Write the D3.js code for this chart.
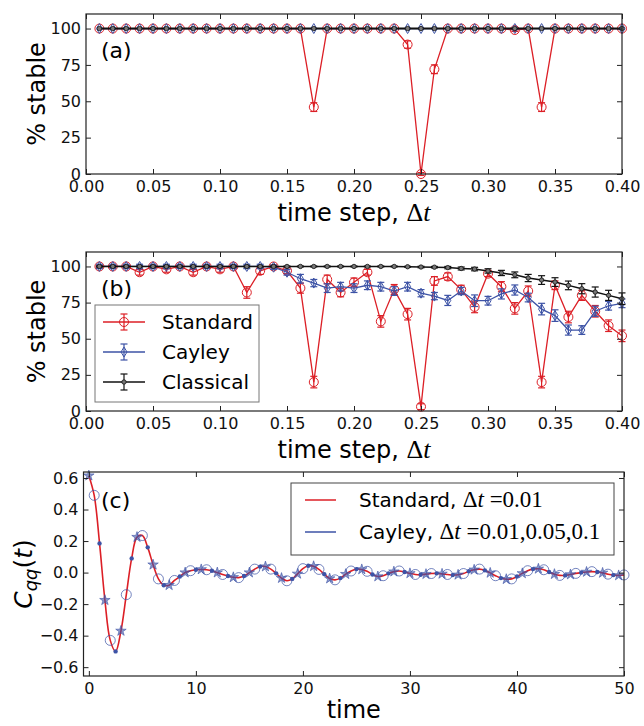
<!DOCTYPE html>
<html>
<head>
<meta charset="utf-8">
<script src="https://cdn.jsdelivr.net/npm/d3@7/dist/d3.min.js"></script>
<style>
  body { margin: 0; background: #fff; }
  text { font-family: "DejaVu Sans", sans-serif; white-space: pre; }
</style>
</head>
<body>
<div id="chart"></div>
<script>
// time steps used in panels (a) and (b)
var timeSteps = [0.01, 0.02, 0.03, 0.04, 0.05, 0.06, 0.07, 0.08, 0.09, 0.10,
                 0.11, 0.12, 0.13, 0.14, 0.15, 0.16, 0.17, 0.18, 0.19, 0.20,
                 0.21, 0.22, 0.23, 0.24, 0.25, 0.26, 0.27, 0.28, 0.29, 0.30,
                 0.31, 0.32, 0.33, 0.34, 0.35, 0.36, 0.37, 0.38, 0.39, 0.40];

// panel (a): % stable
var standardA = [100, 100, 100, 100, 100, 100, 100, 100, 100, 100,
                 100, 100, 100, 100, 100, 100, 46, 100, 100, 100,
                 100, 100, 100, 89, 0, 72, 100, 100, 100, 100,
                 100, 99, 100, 46, 100, 100, 100, 100, 100, 100];
var standardAErr = [0, 0, 0, 0, 0, 0, 0, 0, 0, 0,
                    0, 0, 0, 0, 0, 0, 3, 0, 0, 0,
                    0, 0, 0, 2.5, 1, 3, 0, 0, 0, 0,
                    0, 1, 0, 3, 0, 0, 0, 0, 0, 0];
var cayleyA = [100, 100, 100, 100, 100, 100, 100, 100, 100, 100,
               100, 100, 100, 100, 100, 100, 100, 100, 100, 100,
               100, 100, 100, 100, 100, 100, 100, 100, 100, 100,
               100, 100, 100, 100, 100, 100, 100, 100, 100, 100];
var classicalA = [100, 100, 100, 100, 100, 100, 100, 100, 100, 100,
                  100, 100, 100, 100, 100, 100, 100, 100, 100, 100,
                  100, 100, 100, 100, 100, 100, 100, 100, 100, 100,
                  100, 100, 100, 100, 100, 100, 100, 100, 100, 100];

// panel (b): % stable
var standardB = [100, 100, 100, 96, 100, 98, 100, 96, 100, 98,
                 100, 82, 97, 100, 97, 85, 20, 91, 82, 89,
                 96, 62, 84, 67, 3, 90, 93, 84, 72, 95,
                 86, 71, 83, 20, 87, 65, 80, 69, 59, 52];
var standardBErr = [0.5, 0.5, 0.5, 2, 0.5, 2, 0.5, 2, 0.5, 2,
                    0.5, 4, 2.5, 1, 2, 3.5, 4, 3, 3, 3,
                    2, 4, 3.5, 4, 2, 3, 2.5, 3, 4, 2,
                    3.5, 4, 3.5, 4, 3, 4, 3.5, 4, 4, 4];
var cayleyB = [100, 100, 100, 100, 100, 100, 100, 100, 100, 100,
               100, 100, 100, 99.5, 96, 91.5, 88.5, 85, 86, 85,
               87, 86, 83, 86, 81.5, 79.5, 76.5, 83, 76.3, 76.3,
               81, 83.7, 78.5, 70.5, 66, 56, 56, 69, 72.8, 74.5];
var cayleyBErr = [1.5, 1.5, 1.5, 1.5, 1.5, 1.5, 1.5, 1.5, 1.5, 1.5,
                  1.5, 1.5, 1.5, 1.5, 2, 3, 2.5, 3, 3, 3,
                  3, 3, 3, 3, 2.5, 2.5, 3.5, 2.5, 4, 3,
                  3.5, 3.5, 3, 4, 4, 3.5, 3, 3.5, 3, 3];
var classicalB = [100, 100, 100, 100, 100, 100, 100, 100, 100, 100,
                  100, 100, 100, 100, 100, 100, 100, 100, 100, 100,
                  100, 100, 100, 99.8, 99.6, 99.5, 99.2, 98.6, 98.2, 96.9,
                  95.5, 94.2, 92, 90.6, 89.2, 86.9, 84.6, 82.3, 80, 77.7];
var classicalBErr = [0.3, 0.3, 0.3, 0.3, 0.3, 0.3, 0.3, 0.3, 0.3, 0.3,
                     0.3, 0.3, 0.3, 0.3, 0.3, 0.3, 0.3, 0.3, 0.3, 0.3,
                     0.3, 0.3, 0.3, 0.3, 0.5, 0.5, 0.8, 1, 1.2, 1.5,
                     1.8, 2, 2.5, 3, 3, 3, 3.5, 3.5, 3.5, 4];

// panel (c): correlation function C_qq(t), sampled every 0.5 time units
var times = [0, 0.5, 1, 1.5, 2, 2.5, 3, 3.5, 4, 4.5, 5, 5.5, 6, 6.5, 7, 7.5, 8, 8.5, 9, 9.5,
             10, 10.5, 11, 11.5, 12, 12.5, 13, 13.5, 14, 14.5, 15, 15.5, 16, 16.5, 17, 17.5, 18, 18.5, 19, 19.5,
             20, 20.5, 21, 21.5, 22, 22.5, 23, 23.5, 24, 24.5, 25, 25.5, 26, 26.5, 27, 27.5, 28, 28.5, 29, 29.5,
             30, 30.5, 31, 31.5, 32, 32.5, 33, 33.5, 34, 34.5, 35, 35.5, 36, 36.5, 37, 37.5, 38, 38.5, 39, 39.5,
             40, 40.5, 41, 41.5, 42, 42.5, 43, 43.5, 44, 44.5, 45, 45.5, 46, 46.5, 47, 47.5, 48, 48.5, 49, 49.5, 50];
var cqq = [0.615, 0.49, 0.185, -0.175, -0.43, -0.50, -0.37, -0.14, 0.09, 0.225,
           0.235, 0.16, 0.05, -0.04, -0.08, -0.08, -0.05, -0.025, 0.0, 0.012,
           0.018, 0.02, 0.018, 0.012, 0.0, -0.012, -0.022, -0.03, -0.032, -0.022,
           0.0, 0.022, 0.038, 0.038, 0.022, -0.005, -0.035, -0.052, -0.04, -0.008,
           0.025, 0.043, 0.04, 0.02, -0.01, -0.038, -0.046, -0.035, -0.01, 0.01,
           0.022, 0.02, 0.008, -0.012, -0.025, -0.02, -0.005, 0.006, 0.01, 0.004,
           -0.005, -0.012, -0.014, -0.01, -0.006, -0.005, -0.008, -0.012, -0.016, -0.014,
           -0.006, 0.008, 0.018, 0.022, 0.014, -0.002, -0.02, -0.035, -0.042, -0.04,
           -0.025, -0.005, 0.012, 0.022, 0.024, 0.018, 0.004, -0.01, -0.018, -0.018,
           -0.012, -0.005, 0.0, 0.004, 0.006, 0.004, -0.002, -0.01, -0.016, -0.018, -0.015];

var xTicksAB = [0, 0.05, 0.10, 0.15, 0.20, 0.25, 0.30, 0.35, 0.40];
var yTicksAB = [0, 25, 50, 75, 100];
var xTicksC = [0, 10, 20, 30, 40, 50];
var yTicksC = [-0.6, -0.4, -0.2, 0.0, 0.2, 0.4, 0.6];

var RED = "#dc1f26", BLUE = "#3d53a6", BLACK = "#111";

var width = 644, height = 726;
var svg = d3.select("#chart").append("svg")
    .attr("width", width)
    .attr("height", height);

var mathFont = "'Liberation Serif', 'DejaVu Serif', serif";

// frame ticks: inside, on all four sides
function drawAxes(box, x, y, xTicks, yTicks, xFmt, yFmt) {
    var g = svg.append("g");
    g.append("g")
        .attr("transform", "translate(0," + box.bottom + ")")
        .call(d3.axisBottom(x).tickValues(xTicks).tickFormat(xFmt).tickSize(-5).tickSizeOuter(0).tickPadding(7))
        .call(styleAxis);
    g.append("g")
        .attr("transform", "translate(0," + box.top + ")")
        .call(d3.axisTop(x).tickValues(xTicks).tickFormat("").tickSize(-5).tickSizeOuter(0))
        .call(styleAxis);
    g.append("g")
        .attr("transform", "translate(" + box.left + ",0)")
        .call(d3.axisLeft(y).tickValues(yTicks).tickFormat(yFmt).tickSize(-5).tickSizeOuter(0).tickPadding(5))
        .call(styleAxis);
    g.append("g")
        .attr("transform", "translate(" + box.right + ",0)")
        .call(d3.axisRight(y).tickValues(yTicks).tickFormat("").tickSize(-5).tickSizeOuter(0))
        .call(styleAxis);
    return g;
}

function styleAxis(sel) {
    sel.select(".domain").remove();
    sel.selectAll(".tick line").attr("stroke", "#222").attr("stroke-width", 1);
    sel.selectAll(".tick text").attr("font-size", 16).attr("fill", "#111")
        .attr("font-family", "DejaVu Sans");
}

function drawFrame(box) {
    svg.append("rect")
        .attr("x", box.left).attr("y", box.top)
        .attr("width", box.right - box.left)
        .attr("height", box.bottom - box.top)
        .attr("fill", "none")
        .attr("stroke", "#222")
        .attr("stroke-width", 1.2);
}

function diamond(s) {
    return "M0," + (-s) + "L" + (s * 0.6) + ",0L0," + s + "L" + (-s * 0.6) + ",0Z";
}

// one errorbar series
function drawSeries(g, x, y, xs, vals, errs, color, marker, lw) {
    var data = xs.map(function (d, i) {
        return { x: d, v: vals[i], e: errs ? errs[i] : 0 };
    });
    var line = d3.line()
        .x(function (d) { return x(d.x); })
        .y(function (d) { return y(d.v); });
    var s = g.append("g");
    s.append("path")
        .datum(data)
        .attr("d", line)
        .attr("fill", "none")
        .attr("stroke", color)
        .attr("stroke-width", lw);
    var eb = s.selectAll(".eb").data(data.filter(function (d) { return d.e > 0; }))
        .enter().append("g");
    eb.append("line")
        .attr("x1", function (d) { return x(d.x); })
        .attr("x2", function (d) { return x(d.x); })
        .attr("y1", function (d) { return y(d.v - d.e); })
        .attr("y2", function (d) { return y(d.v + d.e); })
        .attr("stroke", color).attr("stroke-width", 1.2);
    [-1, 1].forEach(function (sgn) {
        eb.append("line")
            .attr("x1", function (d) { return x(d.x) - 3.5; })
            .attr("x2", function (d) { return x(d.x) + 3.5; })
            .attr("y1", function (d) { return y(d.v + sgn * d.e); })
            .attr("y2", function (d) { return y(d.v + sgn * d.e); })
            .attr("stroke", color).attr("stroke-width", 1.2);
    });
    var m = s.selectAll(".mk").data(data).enter();
    if (marker == "circle") {
        m.append("circle")
            .attr("cx", function (d) { return x(d.x); })
            .attr("cy", function (d) { return y(d.v); })
            .attr("r", 4.5)
            .attr("fill", "none").attr("stroke", color).attr("stroke-width", 1);
    } else if (marker == "diamond") {
        m.append("path")
            .attr("transform", function (d) { return "translate(" + x(d.x) + "," + y(d.v) + ")"; })
            .attr("d", diamond(5))
            .attr("fill", "none").attr("stroke", color).attr("stroke-width", 1);
    } else {
        m.append("circle")
            .attr("cx", function (d) { return x(d.x); })
            .attr("cy", function (d) { return y(d.v); })
            .attr("r", 2.2)
            .attr("fill", "#777").attr("stroke", "#111").attr("stroke-width", 0.8);
    }
}

function xLabelDt(box, yPos) {
    var t = svg.append("text")
        .attr("x", (box.left + box.right) / 2)
        .attr("y", yPos)
        .attr("text-anchor", "middle")
        .attr("font-size", 24);
    t.append("tspan").text("time step, ");
    t.append("tspan").attr("font-family", mathFont).attr("font-size", 26).text("\u0394");
    t.append("tspan").attr("font-family", mathFont).attr("font-size", 26).attr("font-style", "italic").text("t");
}

function yLabelStable(box) {
    svg.append("text")
        .attr("transform", "translate(45," + ((box.top + box.bottom) / 2) + ") rotate(-90)")
        .attr("text-anchor", "middle")
        .attr("font-size", 24)
        .text("% stable");
}

// ---------- panel (a) ----------
var boxA = { left: 86, right: 622, top: 14, bottom: 174 };
var xA = d3.scaleLinear().domain([0, 0.4]).range([boxA.left, boxA.right]);
var yA = d3.scaleLinear().domain([0, 110]).range([boxA.bottom, boxA.top]);
var fmtX = d3.format(".2f");
var gA = svg.append("g");
drawSeries(gA, xA, yA, timeSteps, standardA, standardAErr, RED, "circle", 1.3);
drawSeries(gA, xA, yA, timeSteps, cayleyA, null, BLUE, "diamond", 1.3);
drawSeries(gA, xA, yA, timeSteps, classicalA, null, BLACK, "dot", 2);
drawAxes(boxA, xA, yA, xTicksAB, yTicksAB, fmtX, d3.format("d"));
drawFrame(boxA);
xLabelDt(boxA, 221);
yLabelStable(boxA);
svg.append("text").attr("x", 101).attr("y", 58).attr("font-size", 22).text("(a)");

// ---------- panel (b) ----------
var boxB = { left: 86, right: 622, top: 252, bottom: 411 };
var xB = d3.scaleLinear().domain([0, 0.4]).range([boxB.left, boxB.right]);
var yB = d3.scaleLinear().domain([0, 110]).range([boxB.bottom, boxB.top]);
var gB = svg.append("g");
drawSeries(gB, xB, yB, timeSteps, standardB, standardBErr, RED, "circle", 1.3);
drawSeries(gB, xB, yB, timeSteps, cayleyB, cayleyBErr, BLUE, "diamond", 1.3);
drawSeries(gB, xB, yB, timeSteps, classicalB, classicalBErr, BLACK, "dot", 1.5);
drawAxes(boxB, xB, yB, xTicksAB, yTicksAB, fmtX, d3.format("d"));
drawFrame(boxB);
xLabelDt(boxB, 458);
yLabelStable(boxB);
svg.append("text").attr("x", 101).attr("y", 296).attr("font-size", 22).text("(b)");

// legend (b)
var legB = svg.append("g");
legB.append("rect")
    .attr("x", 95).attr("y", 305).attr("width", 164).attr("height", 97)
    .attr("fill", "#fff").attr("stroke", "#777").attr("stroke-width", 1);
var legItems = [
    { name: "Standard", color: RED, marker: "circle", y: 322 },
    { name: "Cayley", color: BLUE, marker: "diamond", y: 352 },
    { name: "Classical", color: BLACK, marker: "dot", y: 382 }
];
legItems.forEach(function (d) {
    legB.append("line").attr("x1", 103).attr("x2", 145).attr("y1", d.y).attr("y2", d.y)
        .attr("stroke", d.color).attr("stroke-width", 1.5);
    legB.append("line").attr("x1", 124).attr("x2", 124).attr("y1", d.y - 8).attr("y2", d.y + 8)
        .attr("stroke", d.color).attr("stroke-width", 1.2);
    legB.append("line").attr("x1", 120.5).attr("x2", 127.5).attr("y1", d.y - 8).attr("y2", d.y - 8)
        .attr("stroke", d.color).attr("stroke-width", 1.2);
    legB.append("line").attr("x1", 120.5).attr("x2", 127.5).attr("y1", d.y + 8).attr("y2", d.y + 8)
        .attr("stroke", d.color).attr("stroke-width", 1.2);
    if (d.marker == "circle") {
        legB.append("circle").attr("cx", 124).attr("cy", d.y).attr("r", 4.5)
            .attr("fill", "none").attr("stroke", d.color);
    } else if (d.marker == "diamond") {
        legB.append("path").attr("transform", "translate(124," + d.y + ")").attr("d", diamond(5))
            .attr("fill", "none").attr("stroke", d.color);
    } else {
        legB.append("circle").attr("cx", 124).attr("cy", d.y).attr("r", 2.2)
            .attr("fill", "#777").attr("stroke", "#111").attr("stroke-width", 0.8);
    }
    legB.append("text").attr("x", 162).attr("y", d.y + 7).attr("font-size", 20).text(d.name);
});

// ---------- panel (c) ----------
var boxC = { left: 83.5, right: 624, top: 472, bottom: 676 };
var xC = d3.scaleLinear().domain([-0.5, 50]).range([boxC.left, boxC.right]);
var yC = d3.scaleLinear().domain([-0.656, 0.638]).range([boxC.bottom, boxC.top]);
var dataC = times.map(function (t, i) { return { t: t, v: cqq[i], k: i % 3 }; });

svg.append("path")
    .datum(dataC)
    .attr("d", d3.line().curve(d3.curveCatmullRom)
        .x(function (d) { return xC(d.t); })
        .y(function (d) { return yC(d.v); }))
    .attr("fill", "none")
    .attr("stroke", RED)
    .attr("stroke-width", 1.6);

var star = d3.symbol().type(d3.symbolStar).size(34);
var mk = svg.append("g").selectAll("g").data(dataC).enter().append("g")
    .attr("transform", function (d) { return "translate(" + xC(d.t) + "," + yC(d.v) + ")"; });
mk.each(function (d) {
    var s = d3.select(this);
    if (d.k == 0) {
        s.append("path").attr("d", star).attr("fill", BLUE).attr("fill-opacity", 0.6)
            .attr("stroke", BLUE).attr("stroke-width", 0.6);
    } else if (d.k == 1) {
        s.append("circle").attr("r", 5).attr("fill", "none")
            .attr("stroke", BLUE).attr("stroke-opacity", 0.8).attr("stroke-width", 0.9);
    } else {
        s.append("circle").attr("r", 2.2).attr("fill", BLUE);
    }
});

drawAxes(boxC, xC, yC, xTicksC, yTicksC, d3.format("d"), function (d) {
    return d3.format(".1f")(d).replace("-", "\u2212");
});
drawFrame(boxC);

svg.append("text").attr("x", (boxC.left + boxC.right) / 2).attr("y", 718)
    .attr("text-anchor", "middle").attr("font-size", 24).text("time");

var yl = svg.append("text")
    .attr("transform", "translate(32," + ((boxC.top + boxC.bottom) / 2) + ") rotate(-90)")
    .attr("text-anchor", "middle")
    .attr("font-family", mathFont)
    .attr("font-size", 25);
yl.append("tspan").attr("font-style", "italic").text("C");
yl.append("tspan").attr("font-style", "italic").attr("font-size", 18).attr("dy", 5).text("qq");
yl.append("tspan").attr("dy", -5).text("(");
yl.append("tspan").attr("font-style", "italic").text("t");
yl.append("tspan").text(")");

svg.append("text").attr("x", 101).attr("y", 508).attr("font-size", 22).text("(c)");

// legend (c)
var legC = svg.append("g");
legC.append("rect")
    .attr("x", 291).attr("y", 483).attr("width", 323).attr("height", 72)
    .attr("fill", "#fff").attr("stroke", "#444").attr("stroke-width", 1);
[{ name: "Standard, ", val: " =0.01", color: RED, y: 500 },
 { name: "Cayley, ", val: " =0.01,0.05,0.1", color: BLUE, y: 532 }].forEach(function (d) {
    legC.append("line").attr("x1", 305).attr("x2", 336).attr("y1", d.y).attr("y2", d.y)
        .attr("stroke", d.color).attr("stroke-width", 1.5);
    var t = legC.append("text").attr("x", 359).attr("y", d.y + 7).attr("font-size", 20);
    t.append("tspan").text(d.name);
    t.append("tspan").attr("font-family", mathFont).attr("font-size", 23).text("\u0394");
    t.append("tspan").attr("font-family", mathFont).attr("font-size", 23).attr("font-style", "italic").text("t");
    t.append("tspan").attr("font-family", mathFont).attr("font-size", 23).text(d.val);
});
</script>
</body>
</html>
